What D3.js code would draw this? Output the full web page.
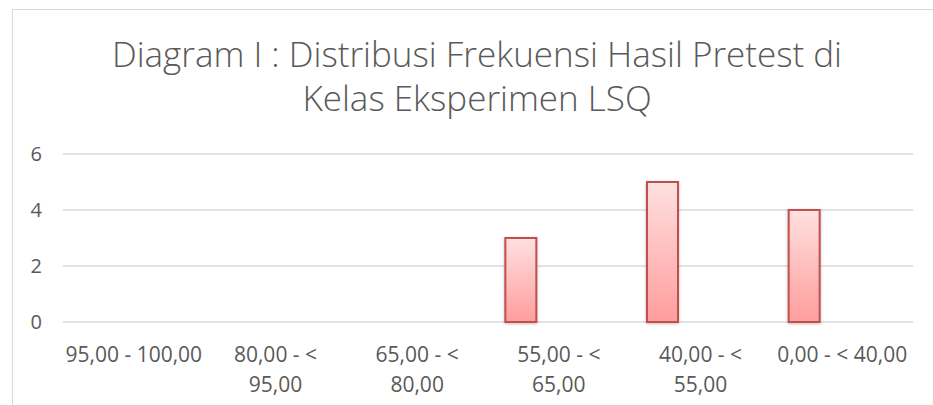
<!DOCTYPE html>
<html>
<head>
<meta charset="utf-8">
<script src="https://cdn.jsdelivr.net/npm/d3@7"></script>
<style>
  html, body { margin: 0; padding: 0; background: #fff; }
  svg text { font-family: "Open Sans", "DejaVu Sans", sans-serif; fill: #595959; }
</style>
</head>
<body>
<div id="chart"></div>
<script>
// data
const titleLines = ["Diagram I : Distribusi Frekuensi Hasil Pretest di", "Kelas Eksperimen LSQ"];
const categories = [
  ["95,00 - 100,00"],
  ["80,00 - <", "95,00"],
  ["65,00 - <", "80,00"],
  ["55,00 - <", "65,00"],
  ["40,00 - <", "55,00"],
  ["0,00 - < 40,00"]
];
const frequencies = [0, 0, 0, 3, 5, 4];
const yTicks = [0, 2, 4, 6];

// layout
const width = 933;
const height = 405;
const plot = { left: 63, right: 913, top: 154, bottom: 322 };

const svg = d3.select("#chart").append("svg")
  .attr("width", width)
  .attr("height", height);

// gradient + shadow for bars
const defs = svg.append("defs");
const grad = defs.append("linearGradient")
  .attr("id", "barFill")
  .attr("x1", 0).attr("y1", 0).attr("x2", 0).attr("y2", 1);
grad.append("stop").attr("offset", "0%").attr("stop-color", "#ffe0e0");
grad.append("stop").attr("offset", "100%").attr("stop-color", "#ff9d9d");

const shadow = defs.append("filter").attr("id", "shadow")
  .attr("x", "-30%").attr("y", "-10%").attr("width", "160%").attr("height", "120%");
shadow.append("feDropShadow")
  .attr("dx", 0).attr("dy", 1).attr("stdDeviation", 1.5)
  .attr("flood-color", "#000").attr("flood-opacity", 0.25);

// chart border
svg.append("rect")
  .attr("x", 12.5).attr("y", 9.5)
  .attr("width", 960).attr("height", 420)
  .attr("fill", "none")
  .attr("stroke", "#d9d9d9")
  .attr("stroke-width", 1);

// title
svg.append("text")
  .attr("text-anchor", "middle")
  .style("font-size", "35px")
  .style("font-weight", 300)
  .selectAll("tspan")
  .data(titleLines)
  .join("tspan")
  .attr("x", 477)
  .attr("y", (d, i) => 67 + i * 44)
  .text(d => d);

// scales
const x = d3.scaleBand()
  .domain(categories.map((d, i) => i))
  .range([plot.left, plot.right]);

const y = d3.scaleLinear()
  .domain([0, 6])
  .range([plot.bottom, plot.top]);

// gridlines
svg.append("g")
  .selectAll("line")
  .data(yTicks)
  .join("line")
  .attr("x1", plot.left)
  .attr("x2", plot.right)
  .attr("y1", d => y(d))
  .attr("y2", d => y(d))
  .attr("stroke", "#d9d9d9")
  .attr("stroke-width", 1.5);

// y tick labels
svg.append("g")
  .selectAll("text")
  .data(yTicks)
  .join("text")
  .attr("x", 42)
  .attr("y", d => y(d))
  .attr("dy", "0.36em")
  .attr("text-anchor", "end")
  .style("font-size", "20px")
  .text(d => d);

// bars (first slot of the cluster, left of the category centre)
const barW = 31;
const barShift = -53.5;
svg.append("g")
  .selectAll("rect")
  .data(frequencies.map((v, i) => ({ v, i })).filter(d => d.v > 0))
  .join("rect")
  .attr("x", d => x(d.i) + x.bandwidth() / 2 + barShift)
  .attr("y", d => y(d.v))
  .attr("width", barW)
  .attr("height", d => y(0) - y(d.v))
  .attr("fill", "url(#barFill)")
  .attr("stroke", "#c0504d")
  .attr("stroke-width", 2)
  .attr("filter", "url(#shadow)");

// x labels
const xLabels = svg.append("g")
  .selectAll("text")
  .data(categories)
  .join("text")
  .attr("text-anchor", "middle")
  .style("font-size", "21px");

xLabels.selectAll("tspan")
  .data((d, i) => d.map(line => ({ line, i })))
  .join("tspan")
  .attr("x", d => x(d.i) + x.bandwidth() / 2)
  .attr("y", (d, j) => 362 + j * 30)
  .text(d => d.line);
</script>
</body>
</html>
